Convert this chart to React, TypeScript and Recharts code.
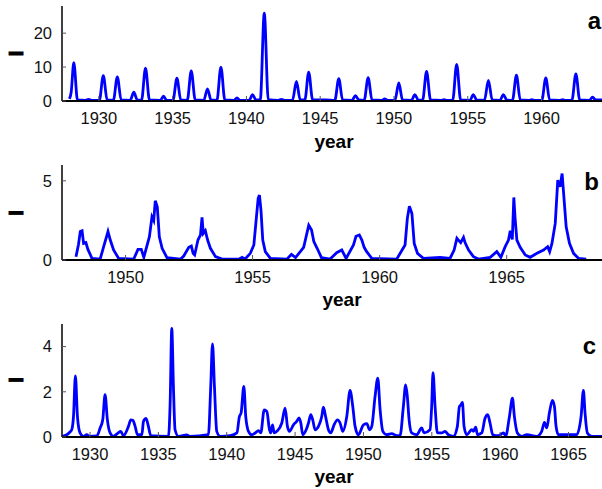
import React from 'react';
import { LineChart, Line, XAxis, YAxis } from 'recharts';

// ---------- Panel a ----------
const yearsA = [
  1928.0, 1928.12, 1928.3, 1928.55, 1929.1, 1929.3, 1929.5, 1930.03, 1930.3, 1930.56,
  1930.98, 1931.25, 1931.51, 1932.12, 1932.37, 1932.6, 1932.89, 1933.16, 1933.43, 1934.16,
  1934.38, 1934.6, 1935.02, 1935.29, 1935.55, 1935.99, 1936.26, 1936.53, 1937.11, 1937.36,
  1937.6, 1938.0, 1938.27, 1938.54, 1939.16, 1939.36, 1939.56, 1940.18, 1940.42, 1940.64,
  1940.94, 1941.21, 1941.48, 1942.17, 1942.37, 1942.57, 1943.12, 1943.39, 1943.64, 1943.96,
  1944.22, 1944.49, 1945.35, 1945.99, 1946.26, 1946.52, 1947.16, 1947.39, 1947.62, 1947.98,
  1948.25, 1948.51, 1949.18, 1949.38, 1949.58, 1950.06, 1950.33, 1950.58, 1951.18, 1951.42,
  1951.64, 1951.94, 1952.21, 1952.48, 1953.19, 1953.39, 1953.59, 1953.98, 1954.25, 1954.52,
  1955.15, 1955.38, 1955.6, 1956.13, 1956.4, 1956.66, 1957.18, 1957.42, 1957.64, 1958.03,
  1958.3, 1958.56, 1959.14, 1959.34, 1959.54, 1960.02, 1960.29, 1960.55, 1961.23, 1961.43,
  1961.63, 1962.06, 1962.33, 1962.59, 1963.24, 1963.46, 1963.68, 1964.1,
];
const valuesA = [
  0.6, 2.5, 11.3, 0.3, 0.2, 0.5, 0.2, 0.2, 7.5, 0.3,
  0.2, 7.1, 0.3, 0.2, 2.6, 0.3, 0.2, 9.7, 0.3, 0.2,
  1.4, 0.2, 0.2, 6.7, 0.3, 0.2, 8.9, 0.3, 0.2, 3.6,
  0.3, 0.2, 10.0, 0.3, 0.2, 0.9, 0.2, 0.2, 1.9, 0.3,
  0.3, 25.9, 0.4, 0.2, 0.5, 0.2, 0.2, 5.8, 0.4, 0.3,
  8.5, 0.3, 0.3, 0.2, 6.6, 0.3, 0.2, 1.6, 0.3, 0.2,
  6.9, 0.3, 0.2, 0.6, 0.2, 0.2, 5.3, 0.3, 0.2, 1.9,
  0.3, 0.2, 8.7, 0.3, 0.2, 0.4, 0.2, 0.2, 10.8, 0.3,
  0.2, 1.9, 0.3, 0.2, 6.1, 0.3, 0.2, 1.9, 0.3, 0.2,
  7.6, 0.3, 0.2, 0.4, 0.2, 0.2, 6.8, 0.3, 0.2, 0.4,
  0.2, 0.2, 8.0, 0.3, 0.2, 1.1, 0.3, 0.3,
];
const xTicksA = [1930, 1935, 1940, 1945, 1950, 1955, 1960];
const yTicksA = [0, 10, 20];

// ---------- Panel b ----------
const yearsB = [
  1948.05, 1948.15, 1948.22, 1948.29, 1948.35, 1948.44, 1948.52, 1948.68, 1949.0, 1949.14,
  1949.31, 1949.4, 1949.53, 1949.73, 1950.32, 1950.49, 1950.62, 1950.72, 1950.94, 1951.04,
  1951.11, 1951.17, 1951.25, 1951.33, 1951.44, 1951.63, 1952.16, 1952.29, 1952.49, 1952.59,
  1952.66, 1952.72, 1952.85, 1952.95, 1953.01, 1953.06, 1953.14, 1953.23, 1953.34, 1953.54,
  1953.8, 1954.45, 1954.59, 1954.7, 1954.91, 1955.05, 1955.14, 1955.22, 1955.27, 1955.33,
  1955.4, 1955.5, 1955.7, 1956.35, 1956.53, 1956.69, 1957.01, 1957.21, 1957.32, 1957.41,
  1957.54, 1957.71, 1958.05, 1958.31, 1958.51, 1958.68, 1958.97, 1959.07, 1959.2, 1959.3,
  1959.39, 1959.49, 1959.69, 1960.67, 1961.0, 1961.09, 1961.17, 1961.27, 1961.36, 1961.49,
  1961.72, 1962.38, 1962.77, 1962.93, 1963.04, 1963.1, 1963.19, 1963.3, 1963.36, 1963.5,
  1963.69, 1963.89, 1964.35, 1964.61, 1964.77, 1964.94, 1965.07, 1965.14, 1965.22, 1965.28,
  1965.33, 1965.4, 1965.53, 1965.73, 1965.92, 1966.19, 1966.45, 1966.61, 1966.69, 1966.78,
  1966.91, 1967.01, 1967.1, 1967.18, 1967.26, 1967.34, 1967.47, 1967.63, 1967.83, 1968.13,
];
const valuesB = [
  0.2, 1.0, 1.8, 1.85, 1.05, 1.1, 0.67, 0.1, 0.05, 0.84,
  1.8, 1.26, 0.63, 0.1, 0.05, 0.67, 0.67, 0.17, 1.47, 2.73,
  2.5, 3.74, 3.36, 1.47, 0.74, 0.15, 0.05, 0.25, 0.8, 0.88,
  0.42, 0.32, 1.26, 1.58, 2.69, 1.68, 1.85, 1.26, 0.74, 0.21,
  0.06, 0.05, 0.17, 0.05, 0.42, 0.95, 2.52, 3.89, 4.1, 3.15,
  1.26, 0.53, 0.1, 0.05, 0.36, 0.15, 0.8, 2.2, 1.9, 1.16,
  0.74, 0.15, 0.06, 0.46, 0.63, 0.1, 0.95, 1.5, 1.58, 1.26,
  0.8, 0.53, 0.1, 0.05, 0.95, 2.63, 3.4, 2.94, 1.05, 0.42,
  0.1, 0.17, 0.1, 0.63, 1.37, 1.26, 1.1, 1.43, 1.1, 0.63,
  0.21, 0.06, 0.17, 0.53, 0.17, 0.84, 1.26, 1.85, 1.3, 3.95,
  2.63, 1.26, 0.8, 0.32, 0.17, 0.42, 0.63, 0.84, 0.53, 1.05,
  2.31, 5.04, 4.62, 5.46, 3.78, 2.1, 1.05, 0.42, 0.1, 0.06,
];
const xTicksB = [1950, 1955, 1960, 1965];
const yTicksB = [0, 5];

// ---------- Panel c ----------
const yearsC = [
  1927.96, 1928.3, 1928.5, 1928.66, 1928.79, 1928.93, 1929.08, 1929.27, 1929.52, 1929.76,
  1929.96, 1930.5, 1930.74, 1930.93, 1931.1, 1931.27, 1931.47, 1931.71, 1931.9, 1932.25,
  1932.44, 1932.81, 1932.98, 1933.13, 1933.3, 1933.47, 1933.79, 1933.91, 1934.1, 1934.27,
  1934.44, 1935.74, 1935.86, 1935.98, 1936.1, 1936.22, 1936.47, 1937.08, 1937.3, 1938.66,
  1938.83, 1938.96, 1939.1, 1939.27, 1939.52, 1940.25, 1940.74, 1940.93, 1941.05, 1941.25,
  1941.39, 1941.59, 1941.83, 1942.08, 1942.32, 1942.49, 1942.74, 1942.93, 1943.13, 1943.22,
  1943.35, 1943.47, 1943.66, 1944.03, 1944.27, 1944.44, 1944.59, 1944.88, 1945.12, 1945.29,
  1945.42, 1945.56, 1945.81, 1945.98, 1946.15, 1946.29, 1946.46, 1946.71, 1946.95, 1947.07,
  1947.24, 1947.44, 1947.61, 1947.85, 1948.1, 1948.29, 1948.49, 1948.78, 1949.02, 1949.22,
  1949.39, 1949.63, 1950.0, 1950.25, 1950.44, 1950.61, 1950.85, 1951.05, 1951.22, 1951.42,
  1951.71, 1952.07, 1952.44, 1952.68, 1952.92, 1953.09, 1953.21, 1953.34, 1953.53, 1953.9,
  1954.26, 1954.43, 1954.87, 1954.99, 1955.09, 1955.24, 1955.41, 1955.73, 1955.97, 1956.21,
  1956.58, 1956.87, 1957.02, 1957.14, 1957.24, 1957.36, 1957.56, 1957.92, 1958.04, 1958.21,
  1958.34, 1958.65, 1958.9, 1959.09, 1959.26, 1959.46, 1959.87, 1960.24, 1960.41, 1960.68,
  1960.9, 1961.04, 1961.26, 1961.58, 1961.95, 1962.68, 1963.04, 1963.24, 1963.41, 1963.6,
  1963.82, 1963.97, 1964.09, 1964.26, 1965.6, 1965.92, 1966.09, 1966.21, 1966.38, 1966.7,
  1967.45,
];
const valuesC = [
  0.03, 0.1, 0.2, 0.32, 0.9, 2.7, 0.9, 0.18, 0.03, 0.1,
  0.03, 0.05, 0.4, 0.76, 1.87, 0.76, 0.18, 0.03, 0.1, 0.25,
  0.06, 0.47, 0.76, 0.74, 0.47, 0.1, 0.1, 0.69, 0.82, 0.47,
  0.06, 0.03, 1.5, 4.81, 2.24, 0.32, 0.03, 0.09, 0.03, 0.1,
  2.24, 4.12, 2.24, 0.25, 0.03, 0.06, 0.18, 0.91, 1.06, 2.24,
  0.91, 0.25, 0.1, 0.18, 0.28, 0.18, 1.2, 1.13, 0.32, 0.18,
  0.54, 0.18, 0.25, 0.62, 1.28, 0.47, 0.25, 0.54, 0.69, 0.84,
  0.62, 0.1, 0.32, 0.62, 0.99, 0.76, 0.32, 0.47, 0.91, 1.32,
  0.88, 0.32, 0.18, 0.54, 0.76, 0.62, 0.25, 0.91, 2.06, 1.35,
  0.47, 0.1, 0.54, 0.59, 0.32, 0.47, 1.79, 2.6, 1.2, 0.25,
  0.1, 0.15, 0.06, 0.06, 1.35, 2.31, 1.79, 0.76, 0.18, 0.1,
  0.4, 0.18, 0.32, 1.35, 2.85, 1.35, 0.18, 0.18, 0.25, 0.1,
  0.03, 0.47, 1.35, 1.43, 1.53, 0.47, 0.1, 0.32, 0.25, 0.44,
  0.1, 0.18, 0.84, 0.99, 0.62, 0.1, 0.06, 0.18, 0.06, 0.91,
  1.72, 0.91, 0.18, 0.03, 0.1, 0.03, 0.25, 0.65, 0.4, 1.06,
  1.62, 1.35, 0.47, 0.1, 0.1, 0.91, 2.06, 1.06, 0.18, 0.03,
  0.03,
];
const xTicksC = [1930, 1935, 1940, 1945, 1950, 1955, 1960, 1965];
const yTicksC = [0, 2, 4];

const FONT = '"Liberation Sans", Arial, Helvetica, sans-serif';

type PanelProps = {
  top: number;
  height: number;
  marginTop: number;
  years: number[];
  values: number[];
  xDomain: [number, number];
  yDomain: [number, number];
  xTicks: number[];
  yTicks: number[];
  curve: 'monotone' | 'linear';
};

function Panel(p: PanelProps) {
  const data = p.years.map((x, i) => ({ x, v: p.values[i] }));
  const tickStyle = { fontSize: 16.5, fill: '#111', fontFamily: FONT };
  return (
    <div style={{ position: 'absolute', left: 0, top: p.top }}>
      <LineChart
        width={602}
        height={p.height}
        data={data}
        margin={{ top: p.marginTop, right: 0, bottom: 0, left: 0 }}
      >
        <XAxis
          xAxisId="top"
          orientation="top"
          type="number"
          dataKey="x"
          domain={p.xDomain}
          ticks={p.xTicks}
          allowDataOverflow
          height={0}
          tick={false}
          tickSize={-4}
          axisLine={{ stroke: '#000', strokeWidth: 1.5 }}
          tickLine={{ stroke: '#555', strokeWidth: 1 }}
        />
        <XAxis
          type="number"
          dataKey="x"
          domain={p.xDomain}
          ticks={p.xTicks}
          allowDataOverflow
          height={40}
          tickSize={-5}
          tickMargin={16}
          tick={tickStyle}
          axisLine={{ stroke: '#000', strokeWidth: 2 }}
          tickLine={{ stroke: '#555', strokeWidth: 1 }}
        />
        <YAxis
          type="number"
          domain={p.yDomain}
          ticks={p.yTicks}
          allowDataOverflow
          width={62}
          tickSize={-4}
          tickMargin={14}
          tick={tickStyle}
          axisLine={{ stroke: '#000', strokeWidth: 1.5 }}
          tickLine={{ stroke: '#555', strokeWidth: 1 }}
        />
        <Line
          type={p.curve}
          dataKey="v"
          stroke="#0000ff"
          strokeWidth={2.8}
          dot={false}
          isAnimationActive={false}
        />
      </LineChart>
    </div>
  );
}

const labelStyle = { fontFamily: FONT, fontWeight: 700 as const, fill: '#000' };

function YDash({ cx, cy }: { cx: number; cy: number }) {
  return (
    <text
      x={cx}
      y={cy}
      transform={`rotate(-90 ${cx} ${cy})`}
      textAnchor="middle"
      dominantBaseline="central"
      fontSize={21}
      stroke="#000"
      strokeWidth={0.9}
      style={labelStyle}
    >
      I
    </text>
  );
}

export default function App() {
  return (
    <div style={{ position: 'absolute', left: 0, top: 0, width: 602, height: 489, background: '#fff', overflow: 'hidden' }}>
      <Panel top={0} height={141} marginTop={6} years={yearsA} values={valuesA}
        xDomain={[1927.5, 1964.1]} yDomain={[0, 28]} xTicks={xTicksA} yTicks={yTicksA} curve="monotone" />
      <Panel top={160} height={140} marginTop={5} years={yearsB} values={valuesB}
        xDomain={[1947.5, 1968.75]} yDomain={[0, 6]} xTicks={xTicksB} yTicks={yTicksB} curve="linear" />
      <Panel top={318} height={159} marginTop={6} years={yearsC} values={valuesC}
        xDomain={[1927.95, 1967.45]} yDomain={[0, 5]} xTicks={xTicksC} yTicks={yTicksC} curve="monotone" />
      <svg width={602} height={489} style={{ position: 'absolute', left: 0, top: 0, pointerEvents: 'none' }}>
        <YDash cx={15.5} cy={53.5} />
        <YDash cx={15.5} cy={213} />
        <YDash cx={15.5} cy={380} />
        <text x={334} y={148} textAnchor="middle" fontSize={19} style={labelStyle}>year</text>
        <text x={342} y={306} textAnchor="middle" fontSize={19} style={labelStyle}>year</text>
        <text x={334} y={483} textAnchor="middle" fontSize={19} style={labelStyle}>year</text>
        <text x={601} y={28.5} textAnchor="end" fontSize={24} style={labelStyle}>a</text>
        <text x={599} y={189.5} textAnchor="end" fontSize={24} style={labelStyle}>b</text>
        <text x={596} y={354} textAnchor="end" fontSize={24} style={labelStyle}>c</text>
      </svg>
    </div>
  );
}
